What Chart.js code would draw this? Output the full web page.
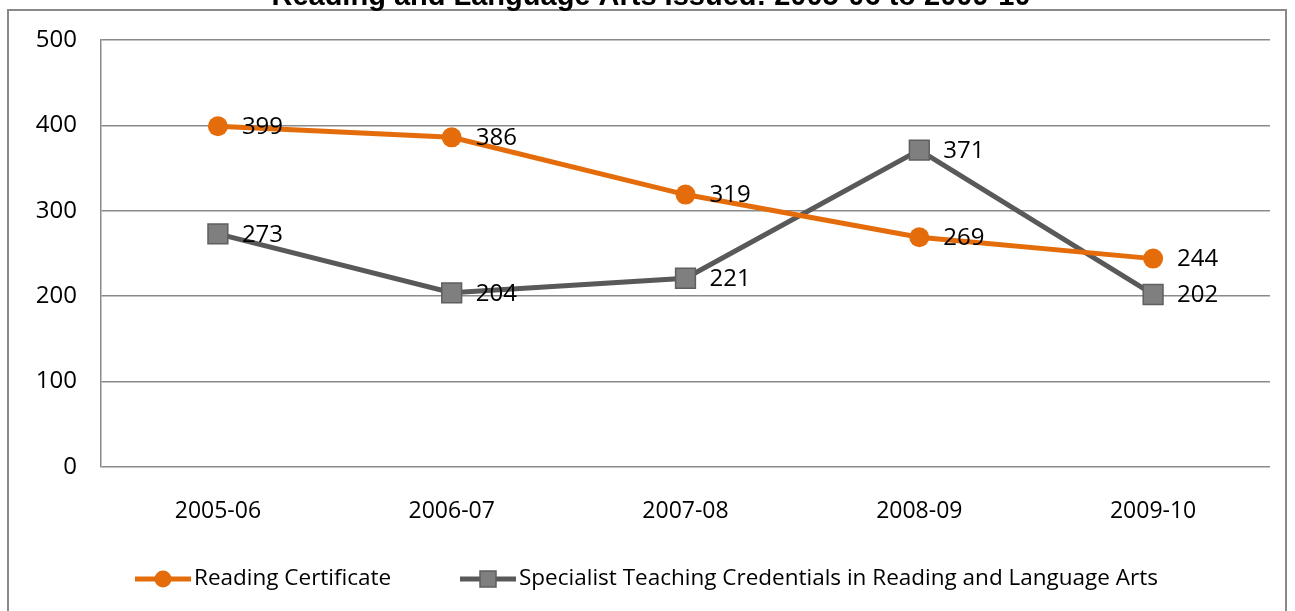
<!DOCTYPE html>
<html>
<head>
<meta charset="utf-8">
<script src="https://cdn.jsdelivr.net/npm/chart.js@4"></script>
<style>
  body { margin: 0; background: #fff; }
  #wrap { width: 1295px; height: 611px; position: relative; }
</style>
</head>
<body>
<div id="wrap"><canvas id="line-chart" width="1295" height="611"></canvas></div>
<script>
const years = ["2005-06", "2006-07", "2007-08", "2008-09", "2009-10"];
const readingCert = [399, 386, 319, 269, 244];
const specialist = [273, 204, 221, 371, 202];
const seriesNames = ["Reading Certificate", "Specialist Teaching Credentials in Reading and Language Arts"];
const chartTitle = "Reading and Language Arts Issued: 2005-06 to 2009-10";

const FONT = "'Open Sans', 'Noto Sans', sans-serif";

// frame, clipped title, value labels and legend
const extras = {
  id: "extras",
  afterDraw(chart) {
    const ctx = chart.ctx;
    ctx.save();
    ctx.strokeStyle = "#898989";
    ctx.lineWidth = 2;
    ctx.strokeRect(8, 10, 1278, 620);

    ctx.fillStyle = "#000";
    ctx.font = "bold 29px 'Liberation Sans', Arial, sans-serif";
    ctx.textAlign = "center";
    ctx.textBaseline = "alphabetic";
    ctx.fillText(chartTitle, 651, 5);

    ctx.font = "24px " + FONT;
    ctx.textAlign = "left";
    ctx.textBaseline = "middle";
    chart.data.datasets.forEach((ds, i) => {
      chart.getDatasetMeta(i).data.forEach((pt, j) => {
        ctx.fillText(String(ds.data[j]), pt.x + 24, pt.y + 1);
      });
    });

    // legend
    ctx.font = "22.5px " + FONT;
    const items = [{x: 135, ds: chart.data.datasets[0]}, {x: 460, ds: chart.data.datasets[1]}];
    const ly = 579;
    items.forEach(it => {
      const ds = it.ds;
      ctx.strokeStyle = ds.borderColor;
      ctx.lineWidth = 5;
      ctx.beginPath();
      ctx.moveTo(it.x, ly);
      ctx.lineTo(it.x + 56, ly);
      ctx.stroke();
      const cx = it.x + 28;
      ctx.fillStyle = ds.pointBackgroundColor;
      ctx.strokeStyle = ds.pointBorderColor;
      ctx.lineWidth = 1.5;
      if (ds.pointStyle === "rect") {
        ctx.fillRect(cx - 8, ly - 8, 16, 16);
        ctx.strokeRect(cx - 8, ly - 8, 16, 16);
      } else {
        ctx.beginPath();
        ctx.arc(cx, ly, 8.5, 0, Math.PI * 2);
        ctx.fill();
      }
      ctx.fillStyle = "#000";
      ctx.fillText(ds.label, it.x + 59, ly);
    });
    ctx.restore();
  }
};

new Chart(document.getElementById("line-chart"), {
  type: "line",
  data: {
    labels: years,
    datasets: [
      {
        label: seriesNames[0],
        data: readingCert,
        borderColor: "#E46C0A",
        borderWidth: 5,
        pointStyle: "circle",
        pointRadius: 10,
        pointHoverRadius: 10,
        pointBackgroundColor: "#E46C0A",
        pointBorderColor: "#E46C0A",
        pointBorderWidth: 0
      },
      {
        label: seriesNames[1],
        data: specialist,
        borderColor: "#595959",
        borderWidth: 5,
        pointStyle: "rect",
        pointRadius: 14,
        pointHoverRadius: 14,
        pointBackgroundColor: "#7F7F7F",
        pointBorderColor: "#5F5F5F",
        pointBorderWidth: 1.5
      }
    ]
  },
  options: {
    responsive: false,
    animation: false,
    layout: { padding: { left: 0, right: 25, top: 40, bottom: 0 } },
    plugins: {
      legend: { display: false },
      title: { display: false },
      tooltip: { enabled: false }
    },
    scales: {
      x: {
        offset: true,
        grid: { display: false },
        border: { display: false },
        ticks: { color: "#000", font: { family: FONT, size: 23 }, padding: 23 },
        afterFit: s => { s.height = 144; }
      },
      y: {
        min: 0,
        max: 500,
        ticks: { stepSize: 100, color: "#000", font: { family: FONT, size: 24 }, padding: 24 },
        grid: { color: "#8A8A8A", lineWidth: 1.5, drawTicks: false },
        border: { color: "#8A8A8A", width: 1.5 },
        afterFit: s => { s.width = 101; }
      }
    }
  },
  plugins: [extras]
});
</script>
</body>
</html>
